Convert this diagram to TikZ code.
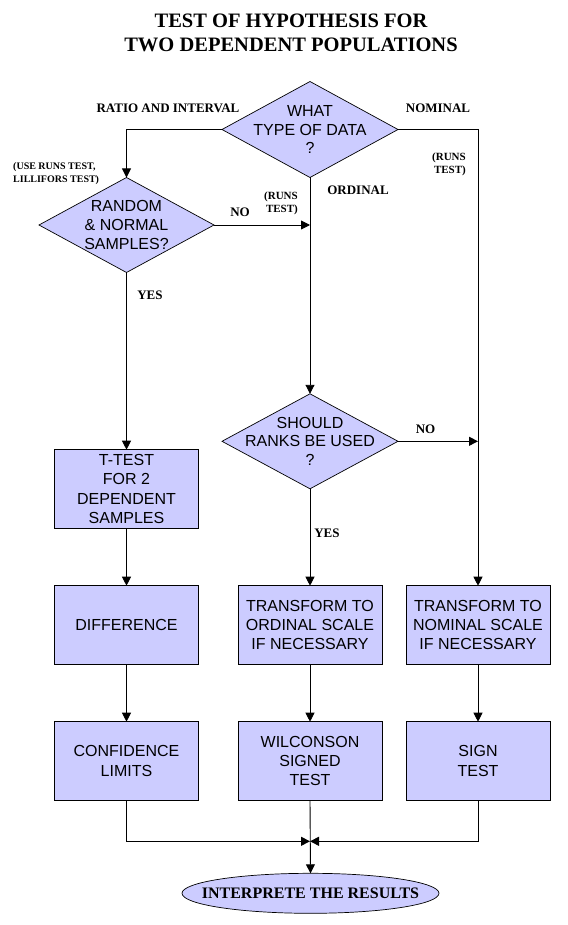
\documentclass[tikz,border=0pt]{standalone}
\usepackage{fontspec}
\setmainfont{Liberation Serif}
\setsansfont{Liberation Sans}
\usetikzlibrary{arrows.meta,shapes.geometric}
\definecolor{lav}{RGB}{204,204,255}
\begin{document}
\begin{tikzpicture}[x=1pt,y=-1pt,
  box/.style={draw, fill=lav, line width=0.9pt, minimum width=144pt, minimum height=78.6pt,
    inner sep=0pt, outer sep=0pt, align=center, font=\sffamily\fontsize{16}{19.3}\selectfont},
  dia/.style={draw, fill=lav, diamond, line width=0.7pt, inner sep=0pt, outer sep=0pt},
  btxt/.style={font=\sffamily\fontsize{16}{18.8}\selectfont, align=center, inner sep=0pt},
  ttl/.style={font=\rmfamily\bfseries\fontsize{20.5}{24}\selectfont, inner sep=0pt},
  lbl/.style={font=\rmfamily\bfseries\fontsize{13}{15}\selectfont, inner sep=0pt},
  sml/.style={font=\rmfamily\bfseries\fontsize{10}{12}\selectfont, inner sep=0pt},
  runs/.style={font=\rmfamily\bfseries\fontsize{11}{13}\selectfont, inner sep=0pt},
  arr/.style={-{Triangle[length=9pt,width=9pt]}, line width=0.9pt}]
\useasboundingbox (0,0) rectangle (567,925);

% title
\node[ttl, anchor=base] (t1) at (291,27.3) {TEST OF HYPOTHESIS FOR};
\node[ttl, anchor=base] (t2) at (291,51.7) {TWO DEPENDENT POPULATIONS};

% diamonds
\node[dia, minimum width=176pt, minimum height=96pt] (q1) at (310,129.5) {};
\node[btxt] (q1t) at (q1) {WHAT\\TYPE OF DATA\\?};
\node[dia, minimum width=175pt, minimum height=95pt] (q2) at (126.5,225) {};
\node[btxt] (q2t) at (q2) {RANDOM\\\& NORMAL\\SAMPLES?};
\node[dia, minimum width=176pt, minimum height=95pt] (q3) at (310,441.3) {};
\node[btxt] (q3t) at (q3) {SHOULD\\RANKS BE USED\\?};

% boxes
\node[box] (tt) at (126.5,489) {T-TEST\\FOR 2\\DEPENDENT\\SAMPLES};
\node[box] (diff) at (126.5,625) {DIFFERENCE};
\node[box] (ordT) at (310,625) {TRANSFORM TO\\ORDINAL SCALE\\IF NECESSARY};
\node[box] (nomT) at (478,625) {TRANSFORM TO\\NOMINAL SCALE\\IF NECESSARY};
\node[box] (conf) at (126.5,761) {CONFIDENCE\\LIMITS};
\node[box] (wil) at (310,761) {WILCONSON\\SIGNED\\TEST};
\node[box] (sign) at (478,761) {SIGN\\TEST};

% result
\node[ellipse, draw, fill=lav, line width=0.7pt, minimum width=257pt, minimum height=40pt, inner sep=0pt, outer sep=0pt] (res) at (310.5,893.3) {};
\node[font=\rmfamily\bfseries\fontsize{16}{19}\selectfont, inner sep=0pt] (rest) at (res) {INTERPRETE THE RESULTS};

% labels
\node[lbl, anchor=base] (lratio) at (168,113) {RATIO AND INTERVAL};
\node[lbl, anchor=base] (lnom) at (438,113) {NOMINAL};
\node[lbl, anchor=base] (lord) at (358,195) {ORDINAL};
\node[lbl, anchor=base] (lno1) at (240,217) {NO};
\node[lbl, anchor=base] (lyes1) at (150,299) {YES};
\node[lbl, anchor=base] (lno2) at (425.5,433) {NO};
\node[lbl, anchor=base] (lyes2) at (327,537) {YES};
\node[sml, anchor=base west] (luse1) at (13,169.5) {(USE RUNS TEST,};
\node[sml, anchor=base west] (luse2) at (13,183) {LILLIFORS TEST)};
\node[runs, anchor=base east] (lr1a) at (298,200) {(RUNS};
\node[runs, anchor=base east] (lr1b) at (298,213) {TEST)};
\node[runs, anchor=base east] (lr2a) at (466,161) {(RUNS};
\node[runs, anchor=base east] (lr2b) at (466,174) {TEST)};

% connectors
\coordinate (j) at (310,841.3);
\draw[arr] (q1.west) -| (q2.north);
\draw[arr] (q1.east) -| (nomT.north);
\draw[arr] (q1.south) -- (q3.north);
\draw[arr] (q2.east) -- (q2.east -| q1.south);
\draw[arr] (q3.east) -- (q3.east -| nomT.north);
\draw[arr] (q2.south) -- (tt.north);
\draw[arr] (q3.south) -- (ordT.north);
\draw[arr] (tt.south) -- (diff.north);
\draw[arr] (diff.south) -- (conf.north);
\draw[arr] (ordT.south) -- (wil.north);
\draw[arr] (nomT.south) -- (sign.north);
\draw[arr] (conf.south) |- (j);
\draw[arr] (sign.south) |- (j);
\draw[arr] (wil.south) -- (res.north);
\end{tikzpicture}
\end{document}
